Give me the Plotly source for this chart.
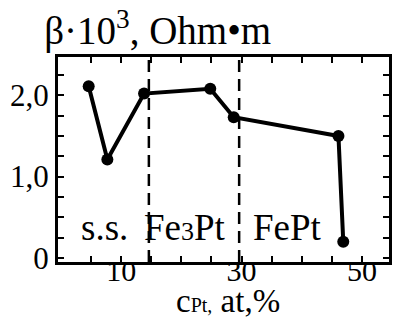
import plotly.graph_objects as go

c_pt = [4.6, 7.7, 13.8, 24.8, 28.7, 46.1, 46.9]
beta = [2.11, 1.21, 2.02, 2.08, 1.73, 1.50, 0.20]
phase_bounds = [14.6, 29.6]
x_tick_vals = [5, 10, 15, 20, 25, 30, 35, 40, 45, 50]
x_tick_text = ["", "10", "", "", "", "30", "", "", "", "50"]
y_tick_vals = [0, 0.25, 0.5, 0.75, 1.0, 1.25, 1.5, 1.75, 2.0, 2.25]
y_tick_text = ["0", "", "", "", "1,0", "", "", "", "2,0", ""]
phase_labels = ["s.s.", "Fe<span style='font-size:26px'>3</span>Pt", "FePt"]
phase_label_x = [7.3, 20.6, 37.6]
phase_label_y = 0.38

FONT = "Liberation Serif, Times New Roman, serif"

fig = go.Figure()
fig.add_trace(go.Scatter(
    x=c_pt, y=beta, mode="lines+markers",
    line=dict(color="black", width=4),
    marker=dict(color="black", size=12),
    showlegend=False, cliponaxis=False,
))

for xb in phase_bounds:
    fig.add_shape(type="line", x0=xb, x1=xb, y0=0, y1=1, yref="paper",
                  line=dict(color="black", width=2.5, dash="12px,7px"))

for txt, xv in zip(phase_labels, phase_label_x):
    fig.add_annotation(x=xv, y=phase_label_y, text=txt, showarrow=False,
                       font=dict(family=FONT, size=37, color="black"))

# x axis title as annotation
fig.add_annotation(x=0.515, y=-0.192, xref="paper", yref="paper",
                   text="c<span style='font-size:20px'>Pt,</span> at,%",
                   showarrow=False, xanchor="center", yanchor="middle",
                   font=dict(family=FONT, size=33, color="black"))

fig.update_layout(
    width=394, height=320,
    margin=dict(l=58, r=2, t=57, b=58),
    paper_bgcolor="white", plot_bgcolor="white",
    font=dict(family=FONT, color="black", size=30),
    title=dict(text="β·10<sup>3</sup>, Ohm•m", x=0.112, xanchor="left",
               y=0.905, yanchor="middle",
               font=dict(family=FONT, size=39, color="black")),
)

fig.update_xaxes(
    range=[-0.5, 54.5], tickmode="array", tickvals=x_tick_vals, ticktext=x_tick_text,
    ticks="inside", ticklen=6, tickwidth=2, tickcolor="black",
    showline=True, linecolor="black", linewidth=3, mirror="allticks",
    showgrid=False, zeroline=False, ticklabelstandoff=-20,
    tickfont=dict(family=FONT, size=30, color="black"),
)
fig.update_yaxes(
    range=[-0.05, 2.47], tickmode="array", tickvals=y_tick_vals, ticktext=y_tick_text,
    ticks="inside", ticklen=6, tickwidth=2, tickcolor="black",
    showline=True, linecolor="black", linewidth=3, mirror="allticks",
    showgrid=False, zeroline=False,
    tickfont=dict(family=FONT, size=31, color="black"),
)

fig.write_html("out.html")
